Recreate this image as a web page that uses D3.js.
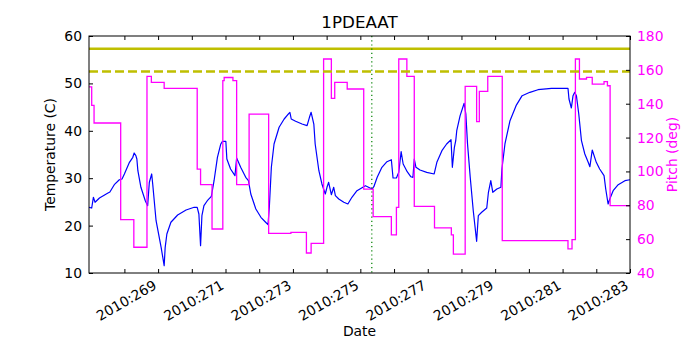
<!DOCTYPE html>
<html>
<head>
  <meta charset="utf-8">
  <title>1PDEAAT</title>
  <script src="https://cdn.jsdelivr.net/npm/d3@7"></script>
  <style>
    body { margin: 0; background: #fff; }
    text { font-family: "DejaVu Sans", sans-serif; }
  </style>
</head>
<body>
  <div id="chart"></div>
  <script>
    // day of year 2010 and temperature (C)
    const tempDay = [266.95, 267.03, 267.08, 267.13, 267.26, 267.50, 267.57, 267.70, 267.85, 267.93,
      268.00, 268.15, 268.25, 268.29, 268.34, 268.37, 268.40, 268.49, 268.62, 268.69,
      268.74, 268.81, 268.84, 268.94, 269.09, 269.18, 269.21, 269.26, 269.38, 269.58,
      269.83, 270.07, 270.16, 270.21, 270.26, 270.30, 270.36, 270.46, 270.58, 270.66,
      270.76, 270.86, 270.91, 271.01, 271.04, 271.15, 271.28, 271.33, 271.45, 271.60,
      271.68, 271.75, 271.90, 272.05, 272.19, 272.26, 272.30, 272.36, 272.44, 272.59,
      272.74, 272.88, 272.91, 272.95, 273.08, 273.27, 273.42, 273.49, 273.54, 273.62,
      273.66, 273.77, 273.86, 273.96, 274.01, 274.06, 274.14, 274.21, 274.26, 274.36,
      274.51, 274.63, 274.75, 274.90, 275.10, 275.15, 275.35, 275.40, 275.50, 275.64,
      275.79, 275.92, 275.97, 276.07, 276.14, 276.21, 276.27, 276.39, 276.50, 276.56,
      276.60, 276.65, 276.77, 276.97, 277.19, 277.27, 277.42, 277.56, 277.69, 277.73,
      277.79, 277.83, 277.86, 277.96, 278.08, 278.13, 278.18, 278.26, 278.35, 278.45,
      278.50, 278.60, 278.75, 278.80, 278.87, 278.93, 279.05, 279.17, 279.20, 279.29,
      279.44, 279.62, 279.80, 280.03, 280.27, 280.67, 281.16, 281.19, 281.26, 281.31,
      281.36, 281.41, 281.48, 281.56, 281.66, 281.76, 281.81, 281.88, 282.00, 282.10,
      282.23, 282.28, 282.35, 282.40, 282.50, 282.65, 282.85, 283.00]
    const tempC = [23.86, 23.71, 25.97, 24.92, 25.82, 26.81, 27.09, 28.63, 29.68, 29.83,
      30.89, 33.35, 34.41, 35.32, 34.75, 34.05, 31.58, 28.08, 25.25, 24.2,
      29.14, 30.89, 28.78, 21.03, 15.42, 11.54, 15.42, 18.23, 20.7, 22.24,
      23.29, 23.86, 23.86, 22.45, 15.76, 22.09, 24.2, 25.25, 26.18, 29.47,
      34.41, 37.22, 37.78, 37.78, 34.05, 31.94, 30.53, 34.26, 32.3, 30.19,
      29.47, 26.67, 23.5, 21.75, 20.7, 20.19, 23.86, 32.3, 37.22, 40.74,
      42.49, 43.69, 43.9, 42.49, 42.0, 41.43, 41.08, 42.85, 43.9, 41.43,
      37.22, 31.58, 28.78, 26.67, 28.08, 29.14, 26.52, 28.08, 26.31, 25.61,
      24.92, 24.56, 25.97, 27.36, 28.21, 28.42, 27.72, 28.21, 30.19, 32.3,
      33.48, 33.9, 30.04, 30.04, 31.24, 35.59, 33.0, 31.37, 30.3, 30.19,
      34.05, 32.3, 31.73, 31.24, 30.89, 33.35, 35.8, 37.22, 38.12, 32.3,
      36.52, 37.91, 40.02, 43.19, 45.8, 43.54, 37.22, 30.19, 23.14, 16.69,
      22.09, 22.81, 23.71, 27.03, 29.47, 27.03, 27.72, 28.08, 31.94, 37.22,
      42.13, 45.3, 47.41, 48.12, 48.67, 48.97, 48.97, 46.71, 44.81, 47.41,
      48.12, 47.41, 43.54, 37.91, 35.11, 33.35, 32.43, 35.95, 33.35, 31.94,
      30.53, 27.72, 24.56, 25.61, 27.36, 28.63, 29.47, 29.68]

    // pitch (deg), value holds from each day until the next
    const pitchDay = [266.95, 267.03, 267.10, 267.89, 268.28, 268.67, 268.80, 269.18, 270.16, 270.26,
      270.60, 270.92, 270.96, 271.22, 271.33, 271.70, 272.28, 272.94, 273.40, 273.54,
      273.91, 274.14, 274.24, 274.61, 275.10, 275.38, 275.92, 276.07, 276.14, 276.38,
      276.60, 277.20, 277.70, 277.76, 278.11, 278.45, 278.53, 278.78, 279.21, 281.16,
      281.28, 281.38, 281.50, 281.71, 281.88, 282.23, 282.33, 282.41, 283.00]
    const pitchDeg = [150, 139, 128.6, 71.5, 55.2, 156.2, 152.6, 149.1, 101.4, 92.2,
      66, 153.6, 155.5, 153.6, 92.2, 133.9, 63.4, 64, 51.8, 57.5,
      166.4, 143.2, 152.6, 148.7, 89.6, 73.3, 62.5, 78.8, 166.4, 156.2,
      79.4, 66.6, 62.5, 51.2, 150.2, 129.4, 147.3, 156.2, 59.1, 54.2,
      59.7, 166.4, 154.6, 155.6, 151.6, 153, 150.6, 79.8, 79.8]

    const dayTicks = d3.range(268, 284)
    const dayLabels = [269, 271, 273, 275, 277, 279, 281, 283]
    const tempTicks = [10, 20, 30, 40, 50, 60]
    const pitchTicks = [40, 60, 80, 100, 120, 140, 160, 180]
    const planLimit = 57.3
    const cautionLimit = 52.5
    const markerDay = 275.34

    const width = 700
    const height = 350
    const margin = { top: 36, right: 70, bottom: 77, left: 89 }
    const x0 = margin.left, x1 = width - margin.right
    const y0 = height - margin.bottom, y1 = margin.top

    const svg = d3.select("#chart")
      .append("svg")
      .attr("width", width)
      .attr("height", height)

    svg.append("rect").attr("width", width).attr("height", height).attr("fill", "#fff")

    const x = d3.scaleLinear().domain([266.95, 283.0]).range([x0, x1])
    const yT = d3.scaleLinear().domain([10, 60]).range([y0, y1])
    const yP = d3.scaleLinear().domain([40, 180]).range([y0, y1])

    svg.append("defs").append("clipPath").attr("id", "clip")
      .append("rect").attr("x", x0).attr("y", y1).attr("width", x1 - x0).attr("height", y0 - y1)

    const plot = svg.append("g").attr("clip-path", "url(#clip)")

    const tempData = tempDay.map((d, i) => [d, tempC[i]])
    const pitchData = pitchDay.map((d, i) => [d, pitchDeg[i]])

    plot.append("path")
      .datum(tempData)
      .attr("fill", "none")
      .attr("stroke", "#0000ff")
      .attr("stroke-width", 1.2)
      .attr("stroke-linejoin", "round")
      .attr("d", d3.line().x(d => x(d[0])).y(d => yT(d[1])))

    plot.append("path")
      .datum(pitchData)
      .attr("fill", "none")
      .attr("stroke", "#ff00ff")
      .attr("stroke-width", 1.3)
      .attr("d", d3.line().curve(d3.curveStepAfter).x(d => x(d[0])).y(d => yP(d[1])))

    plot.append("line")
      .attr("x1", x0).attr("x2", x1)
      .attr("y1", yT(planLimit)).attr("y2", yT(planLimit))
      .attr("stroke", "#bfbf00").attr("stroke-width", 2.5)

    plot.append("line")
      .attr("x1", x0).attr("x2", x1)
      .attr("y1", yT(cautionLimit)).attr("y2", yT(cautionLimit))
      .attr("stroke", "#bfbf00").attr("stroke-width", 2.5)
      .attr("stroke-dasharray", "9,4")

    plot.append("line")
      .attr("x1", x(markerDay)).attr("x2", x(markerDay))
      .attr("y1", y1).attr("y2", y0)
      .attr("stroke", "#008000").attr("stroke-width", 1.2)
      .attr("stroke-dasharray", "1.2,3")

    // frame
    svg.append("rect")
      .attr("x", x0).attr("y", y1).attr("width", x1 - x0).attr("height", y0 - y1)
      .attr("fill", "none").attr("stroke", "#000").attr("stroke-width", 1)

    // x axis, ticks inward on bottom and top
    const bottomAxis = d3.axisBottom(x).tickValues(dayTicks).tickSizeInner(-4).tickSizeOuter(0)
      .tickFormat(d => dayLabels.includes(d) ? "2010:" + d : "")
    const gx = svg.append("g").attr("transform", `translate(0,${y0})`).call(bottomAxis)
    gx.select(".domain").remove()
    gx.selectAll("text")
      .attr("font-size", 13.9)
      .attr("fill", "#000")
      .attr("text-anchor", "end")
      .attr("dy", null)
      .attr("y", 0)
      .attr("transform", "translate(-1,15) rotate(-30)")

    const gxTop = svg.append("g").attr("transform", `translate(0,${y1})`)
      .call(d3.axisTop(x).tickValues(dayTicks).tickSizeInner(-4).tickSizeOuter(0).tickFormat(""))
    gxTop.select(".domain").remove()

    const gyL = svg.append("g").attr("transform", `translate(${x0},0)`)
      .call(d3.axisLeft(yT).tickValues(tempTicks).tickSizeInner(-4).tickSizeOuter(0).tickPadding(7))
    gyL.select(".domain").remove()
    gyL.selectAll("text").attr("font-size", 13.9).attr("fill", "#000")

    const gyR = svg.append("g").attr("transform", `translate(${x1},0)`)
      .call(d3.axisRight(yP).tickValues(pitchTicks).tickSizeInner(-4).tickSizeOuter(0).tickPadding(7))
    gyR.select(".domain").remove()
    gyR.selectAll("text").attr("font-size", 13.9).attr("fill", "#ff00ff")

    svg.selectAll(".tick line").attr("stroke", "#000")

    svg.append("text")
      .attr("x", (x0 + x1) / 2).attr("y", 28)
      .attr("text-anchor", "middle")
      .attr("font-size", 16.7)
      .text("1PDEAAT")

    svg.append("text")
      .attr("x", (x0 + x1) / 2).attr("y", 336)
      .attr("text-anchor", "middle")
      .attr("font-size", 13.9)
      .text("Date")

    svg.append("text")
      .attr("transform", `translate(55,${(y0 + y1) / 2}) rotate(-90)`)
      .attr("text-anchor", "middle")
      .attr("font-size", 13.9)
      .text("Temperature (C)")

    svg.append("text")
      .attr("transform", `translate(677,${(y0 + y1) / 2}) rotate(-90)`)
      .attr("text-anchor", "middle")
      .attr("font-size", 13.9)
      .attr("fill", "#ff00ff")
      .text("Pitch (deg)")
  </script>
</body>
</html>
